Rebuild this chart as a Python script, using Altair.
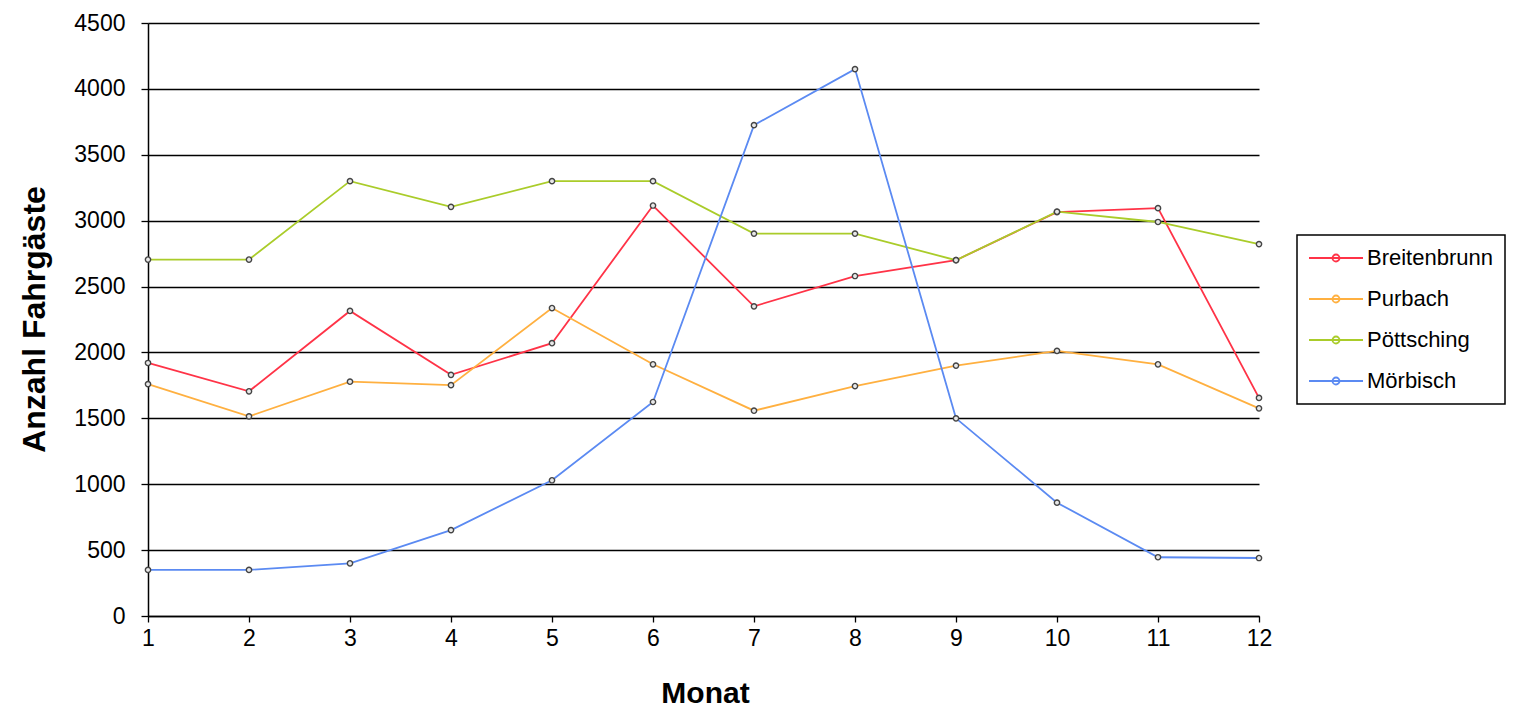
import altair as alt
import pandas as pd

months = list(range(1, 13))
series_names = ["Breitenbrunn", "Purbach", "Pöttsching", "Mörbisch"]
breitenbrunn = [1920, 1705, 2315, 1830, 2070, 3115, 2350, 2580, 2700, 3065, 3095, 1655]
purbach = [1760, 1515, 1778, 1752, 2337, 1910, 1558, 1745, 1900, 2012, 1910, 1576]
poettsching = [2705, 2705, 3300, 3105, 3300, 3300, 2902, 2902, 2700, 3068, 2990, 2822]
moerbisch = [350, 350, 400, 652, 1030, 1624, 3725, 4150, 1500, 860, 446, 440]
colors = ["#FF3347", "#FFB040", "#AACC2A", "#5B8AF2"]
y_ticks = [0, 500, 1000, 1500, 2000, 2500, 3000, 3500, 4000, 4500]

rows = []
for name, vals in zip(series_names, [breitenbrunn, purbach, poettsching, moerbisch]):
    for m, v in zip(months, vals):
        rows.append({"Monat": m, "Wert": v, "Serie": name})
df = pd.DataFrame(rows)

FONT = "Liberation Sans"

x_enc = alt.X(
    "Monat:Q",
    scale=alt.Scale(domain=[1, 12], nice=False, zero=False),
    axis=alt.Axis(
        values=months, format="d", title="Monat", grid=False, labelFlush=False,
        domainColor="#000", domainWidth=1.5, tickColor="#000", tickWidth=1.3, tickSize=6,
        labelFont=FONT, labelFontSize=23, labelColor="#000", labelPadding=5,
        titleFont=FONT, titleFontSize=30, titleFontWeight="bold", titleColor="#000",
        titleBaseline="alphabetic", titleX=557, titleY=86,
    ),
)
y_enc = alt.Y(
    "Wert:Q",
    scale=alt.Scale(domain=[0, 4500], nice=False),
    axis=alt.Axis(
        values=y_ticks, format="d", title="Anzahl Fahrgäste", grid=True, labelFlush=False,
        gridColor="#000", gridWidth=1.3, gridOpacity=1,
        domainColor="#000", domainWidth=1.5, tickColor="#000", tickWidth=1.3, tickSize=7,
        labelFont=FONT, labelFontSize=23, labelColor="#000", labelPadding=16,
        titleFont=FONT, titleFontSize=32, titleFontWeight="bold", titleColor="#000",
        titleBaseline="alphabetic", titleX=-104, titleY=296, titleAngle=270,
    ),
)

legend_path = "M -1.1 0 L 4.3 0 M 1.95 0 A 0.35 0.35 0 1 1 1.25 0 A 0.35 0.35 0 1 1 1.95 0"

lines = alt.Chart(df).mark_line(strokeWidth=1.8).encode(
    x=x_enc,
    y=y_enc,
    color=alt.Color(
        "Serie:N",
        scale=alt.Scale(domain=series_names, range=colors),
        sort=series_names,
        legend=alt.Legend(
            title=None, orient="none", legendX=1149, legendY=212,
            symbolType=legend_path, symbolSize=400, symbolStrokeWidth=1.8,
            labelFont=FONT, labelFontSize=22, labelColor="#000", labelOffset=36,
            rowPadding=19, padding=12, strokeColor="#000",
        ),
    ),
    order=alt.Order("Monat:Q"),
)

points = alt.Chart(df).mark_point(
    shape="circle", size=28, filled=True, fill="#e8e8e8", stroke="#444", strokeWidth=1.4, opacity=1
).encode(x="Monat:Q", y="Wert:Q")

chart = (
    alt.layer(lines, points)
    .properties(
        width=1111, height=593,
        autosize=alt.AutoSizeParams(type="none"),
        padding={"left": 140, "top": 15, "right": 247, "bottom": 94},
        background="white",
    )
    .configure_view(stroke=None)
    .configure_legend(strokeWidth=1.5)
)

chart.save("out.html", embed_options={"renderer": "svg", "actions": False})
